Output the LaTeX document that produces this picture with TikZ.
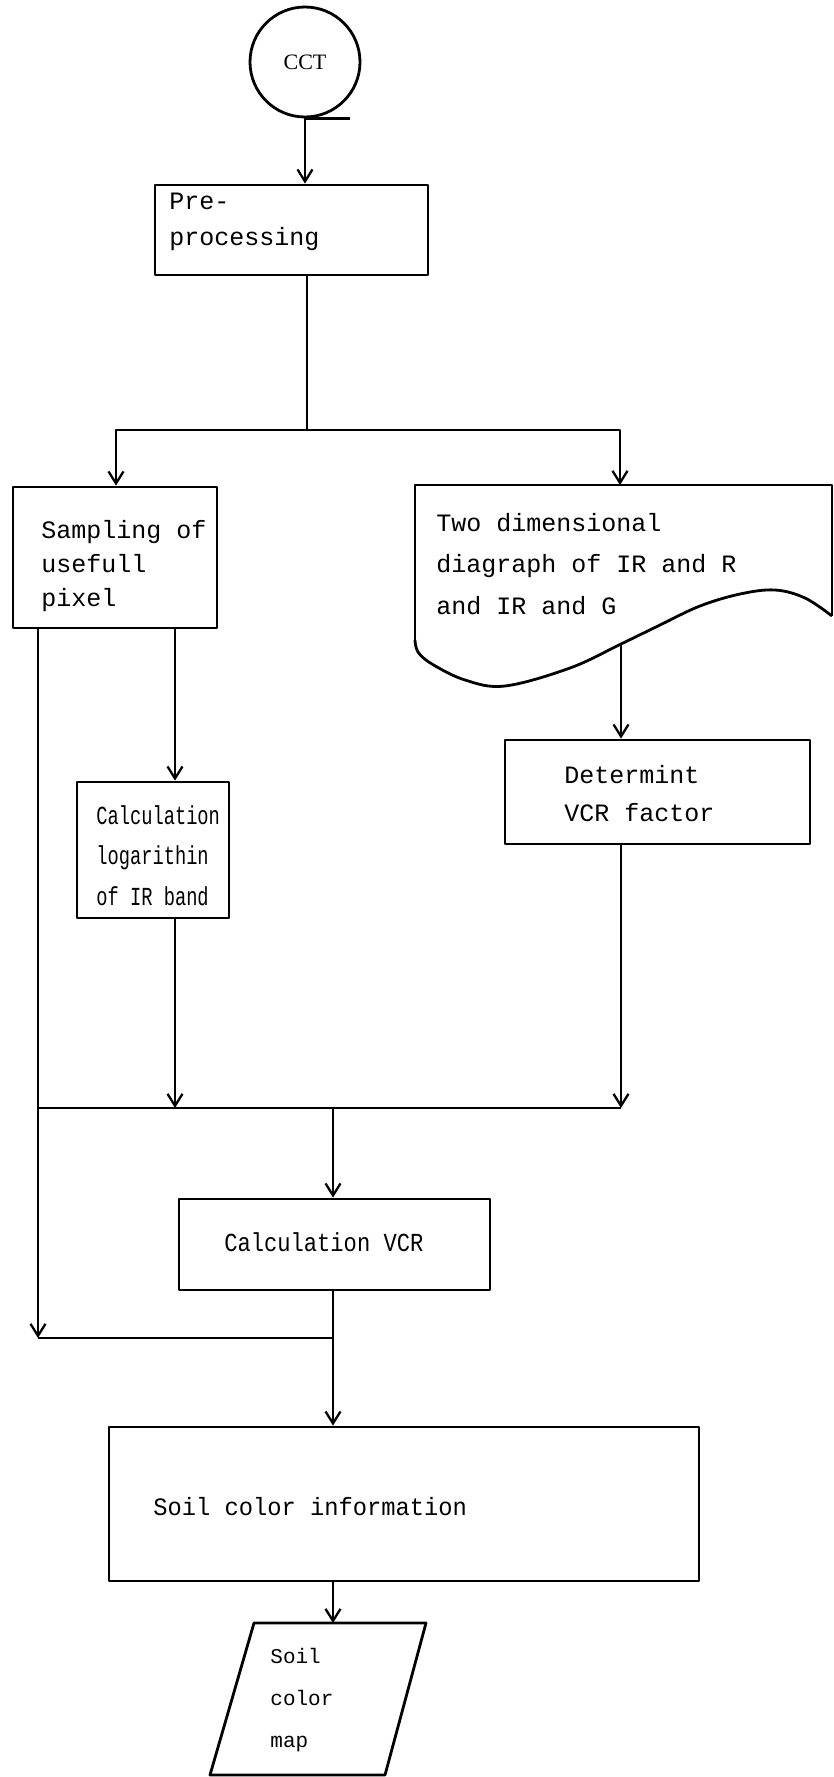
\documentclass[tikz,border=0pt]{standalone}
\usepackage{fontspec}
\newfontfamily\typewriter{Liberation Mono}
\newfontfamily\typewriterA[FakeStretch=0.72]{Liberation Mono}
\newfontfamily\typewriterB[FakeStretch=0.85]{Liberation Mono}
\newfontfamily\typewriterC[FakeStretch=0.95]{Liberation Mono}
\newfontfamily\labelserif{Liberation Serif}
\usetikzlibrary{arrows.meta}
% left-aligned block of lines: size, line distance, lines
\newcommand{\textlines}[3]{\fontsize{#1}{#2}\selectfont\begin{tabular}[t]{@{}l@{}}#3\end{tabular}}

\begin{document}
\begin{tikzpicture}[x=1pt,y=-1pt,
  line width=2.8pt, line join=round,
  box/.style={draw, rectangle, inner sep=0pt},
  txt/.style={inner sep=0pt, anchor=base west, font=\typewriter},
  flow/.style={-{Straight Barb[length=12pt,width=15pt,line width=2.3pt]}},
]
\useasboundingbox (0,0) rectangle (834,1777);

% tape input
\node[draw, circle, minimum size=110pt, inner sep=0pt,
      font={\labelserif\fontsize{22}{26}\selectfont}] (cct) at (305,62) {CCT};
\draw (cct.south) -- ++(45,0);

% process boxes
\node[box, minimum width=273pt, minimum height=90pt]  (prep)    at (291.5,230)  {};
\node[box, minimum width=204pt, minimum height=141pt] (samp)    at (115,557.5)  {};
\node[box, minimum width=152pt, minimum height=136pt] (calclog) at (153,850)    {};
\node[box, minimum width=305pt, minimum height=104pt] (det)     at (657.5,792)  {};
\node[box, minimum width=311pt, minimum height=91pt]  (vcr)     at (334.5,1244.5) {};
\node[box, minimum width=590pt, minimum height=154pt] (info)    at (404,1504)   {};

% document symbol with wavy lower edge
\draw (415,640) -- (415,485) -- (832,485) -- (832,616);
\draw plot[smooth, tension=0.6] coordinates {(832,616) (805,598) (775,590) (740,594) (700,606)
  (660,625) (621,644) (570,668) (505,686) (465,680) (432,664) (418,652) (415,640)};
\coordinate (twodIn)  at (620,485);
\coordinate (twodOut) at (621,644);

% output map (parallelogram)
\draw (254,1623) -- (426,1623) -- (385,1775) -- (210,1775) -- cycle;
\coordinate (mapIn) at (333,1623);

% texts
\node[txt] (prepT) at (168,209) {\textlines{25}{36}{Pre-\\processing}};
\node[txt] (sampT) at (40,538) {\textlines{25}{34}{Sampling of\\usefull\\pixel}};
\node[txt] (twodT) at (435,531) {\textlines{25}{41.5}{Two dimensional\\diagraph of IR and R\\and IR and G}};
\node[txt] (calclogT) at (95,824) {\typewriterA\textlines{26}{40.5}{Calculation\\logarithin\\of IR band}};
\node[txt] (detT) at (563,783) {\textlines{25}{38}{Determint\\VCR factor}};
\node[txt] (vcrT) at (223,1251) {\typewriterB\textlines{26}{30}{Calculation VCR}};
\node[txt] (infoT) at (152,1515) {\typewriterC\textlines{25}{30}{Soil color information}};
\node[txt] (mapT) at (269,1663) {\textlines{21}{42}{Soil\\color\\map}};

% junction points
\coordinate (split)  at (307,430);
\coordinate (splitL) at (116,430);
\coordinate (splitR) at (620,430);
\coordinate (joinA)  at (333,1108);
\coordinate (joinAL) at (38,1108);
\coordinate (joinAR) at (621,1108);
\coordinate (joinB)  at (333,1338);
\coordinate (joinBL) at (38,1338);

% connectors
\draw[flow] (cct.south) -- (cct.south |- prep.north);
\draw (split |- prep.south) -- (split);
\draw[flow] (split) -- (splitL) -- (splitL |- samp.north);
\draw[flow] (split) -- (splitR) -- (twodIn);
\draw[flow] (twodOut) -- (twodOut |- det.north);
\draw[flow] (joinAL |- samp.south) -- (joinBL);
\draw (joinBL) -- (joinB);
\draw[flow] (175,0 |- samp.south) -- (175,0 |- calclog.north);
\draw[flow] (175,0 |- calclog.south) -- (175,1108);
\draw[flow] (joinAR |- det.south) -- (joinAR);
\draw (joinAL) -- (joinAR);
\draw[flow] (joinA) -- (joinA |- vcr.north);
\draw[flow] (joinA |- vcr.south) -- (joinB) -- (joinB |- info.north);
\draw[flow] (joinA |- info.south) -- (mapIn);
\end{tikzpicture}
\end{document}
